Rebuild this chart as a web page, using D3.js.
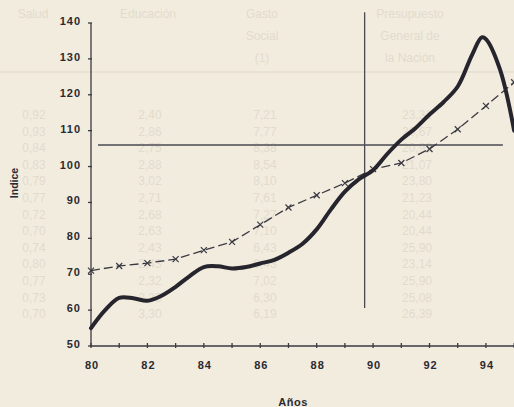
<!DOCTYPE html>
<html><head><meta charset="utf-8">
<script src="https://cdn.jsdelivr.net/npm/d3@7"></script>
<style>
html,body{margin:0;padding:0;background:#f2ecdf;}
svg{display:block;font-family:"Liberation Sans",Arial,sans-serif;}
</style></head>
<body><svg id="c" width="514" height="407"></svg>
<script>
// Solid series (semiannual readings)
const solidYears = [80,80.5,81,81.5,82,82.5,83,83.5,84,84.5,85,85.5,86,86.5,87,87.5,88,88.5,89,89.5,90,90.5,91,91.5,92,92.5,93,93.5,93.85,94,94.5,95];
const solidValues = [55,60,63.4,63.3,62.6,64,66.5,69.5,72,72.2,71.6,72,73,74,76,78.5,82.5,88,93,96.5,99,103.5,107.5,110.7,114.5,118,122.3,131,136,135.5,127,110];
// Dashed series with x markers (annual)
const dashYears = [80,81,82,83,84,85,86,87,88,89,90,91,92,93,94,95];
const dashValues = [71,72.3,73.1,74.2,76.7,79,83.8,88.6,92,95.4,99.3,101,104.9,110.4,116.9,123.5];
const yTicks = [50,60,70,80,90,100,110,120,130,140];
const xTickLabels = [80,82,84,86,88,90,92,94];
const xMinor = [80,81,82,83,84,85,86,87,88,89,90,91,92,93,94,95];
const refH = 106;       // horizontal reference level
const refV = 89.7;      // vertical reference year
// faint show-through table text
const ghostHeads = [["Salud"],["Educación"],["Gasto","Social","(1)"],["Presupuesto","General de","la Nación"]];
const ghostCol1 = ["0,92","0,93","0,84","0,83","0,79","0,77","0,72","0,70","0,74","0,80","0,77","0,73","0,70"];
const ghostCol2 = ["2,40","2,86","2,75","2,88","3,02","2,71","2,68","2,63","2,43","2,43","2,32","2,35","3,30"];
const ghostCol3 = ["7,21","7,77","8,38","8,54","8,10","7,61","7,27","7,10","6,43","6,43","7,02","6,30","6,19"];
const ghostCol4 = ["23,31","20,67","20,92","21,07","23,80","21,23","20,44","20,44","25,90","23,14","25,90","25,08","26,39"];

const svg = d3.select("#c");
const x = d3.scaleLinear().domain([80,96]).range([91, 91+16*28.21]);
const y = d3.scaleLinear().domain([50,140]).range([346,23]);

// ghost layer
const g0 = svg.append("g").attr("fill","#e2dbcc").attr("font-size",12);
const headX = [33,148,262,410];
ghostHeads.forEach((h,i)=>h.forEach((t,j)=>g0.append("text").attr("x",headX[i]).attr("y",18+j*22).attr("text-anchor","middle").text(t)));
svg.append("line").attr("x1",0).attr("x2",514).attr("y1",72).attr("y2",72).attr("stroke","#e6dfd0").attr("stroke-width",1.5);
[[ghostCol1,34],[ghostCol2,150],[ghostCol3,265],[ghostCol4,417]].forEach(([col,cx])=>{
  col.forEach((t,i)=>g0.append("text").attr("x",cx).attr("y",119+i*16.6).attr("text-anchor","middle").text(t));
});

// axes
const ax = svg.append("g").attr("stroke","#3a3a40").attr("stroke-width",1.3);
ax.append("line").attr("x1",x(80)).attr("x2",x(80)).attr("y1",y(140)).attr("y2",y(50));
ax.append("line").attr("x1",x(80)).attr("x2",520).attr("y1",y(50)).attr("y2",y(50));
yTicks.forEach(v=>ax.append("line").attr("x1",x(80)-3).attr("x2",x(80)+1).attr("y1",y(v)).attr("y2",y(v)));
xMinor.forEach(v=>ax.append("line").attr("x1",x(v)).attr("x2",x(v)).attr("y1",y(50)-3).attr("y2",y(50)+2));

const lab = svg.append("g").attr("fill","#2a2a30").attr("font-weight","bold").attr("font-size",11);
yTicks.forEach(v=>lab.append("text").attr("x",x(80)-10).attr("y",y(v)+2).attr("text-anchor","end").attr("letter-spacing",1).text(v));
xTickLabels.forEach(v=>lab.append("text").attr("x",x(v)+1).attr("y",y(50)+23).attr("text-anchor","middle").attr("letter-spacing",1).text(v));
lab.append("text").attr("transform","translate(18,183) rotate(-90)").attr("text-anchor","middle").attr("font-size",10.5).text("Indice");
lab.append("text").attr("x",293).attr("y",406).attr("text-anchor","middle").attr("font-size",11).attr("letter-spacing",0.5).text("Años");

// reference lines
const rl = svg.append("g").attr("stroke","#4a4a52").attr("stroke-width",1.3);
rl.append("line").attr("x1",x(80.25)).attr("x2",x(94.6)).attr("y1",y(refH)).attr("y2",y(refH));
rl.append("line").attr("x1",x(refV)).attr("x2",x(refV)).attr("y1",y(143)).attr("y2",y(60.6));

// dashed series
const dashData = dashYears.map((d,i)=>[d,dashValues[i]]);
svg.append("path").datum(dashData)
  .attr("d",d3.line().x(d=>x(d[0])).y(d=>y(d[1])))
  .attr("fill","none").attr("stroke","#3a3a42").attr("stroke-width",1.3).attr("stroke-dasharray","9,4");
svg.append("g").selectAll("path").data(dashData).join("path")
  .attr("d",d=>{const cx=x(d[0]),cy=y(d[1]),s=3;return `M${cx-s},${cy-s}L${cx+s},${cy+s}M${cx-s},${cy+s}L${cx+s},${cy-s}`;})
  .attr("stroke","#3a3a42").attr("stroke-width",1.2);

// solid series
const solidData = solidYears.map((d,i)=>[d,solidValues[i]]);
svg.append("path").datum(solidData)
  .attr("d",d3.line().curve(d3.curveCatmullRom).x(d=>x(d[0])).y(d=>y(d[1])))
  .attr("fill","none").attr("stroke","#26252d").attr("stroke-width",4).attr("stroke-linejoin","round").attr("stroke-linecap","round");
</script></body></html>
